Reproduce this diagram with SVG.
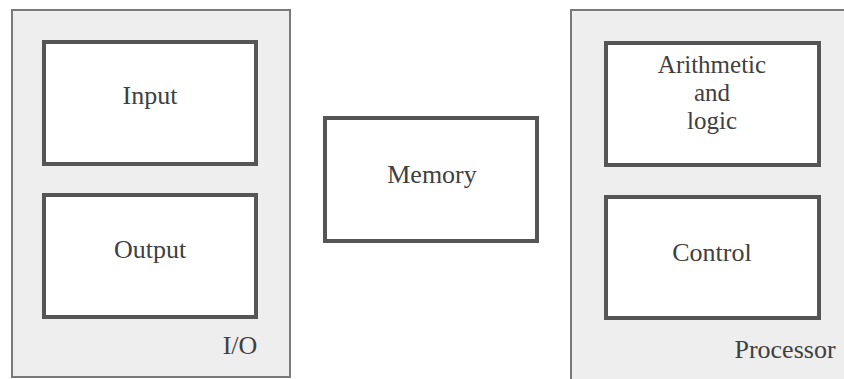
<svg xmlns="http://www.w3.org/2000/svg" width="844" height="379" viewBox="0 0 844 379">
<style>
.outer{fill:#eeeeee;stroke:#7a7a7a;stroke-width:2}
.box{fill:#ffffff;stroke:#555555;stroke-width:4}
.t{font-family:"Liberation Serif","Times New Roman",serif;font-size:26px;fill:#404040;text-anchor:middle}
.s{font-size:25px}
</style>
<rect width="844" height="379" fill="#ffffff"/>
<g id="io">
<rect class="outer" x="12" y="10" width="278" height="367"/>
<text class="t" x="240" y="354">I/O</text>
</g>
<g id="input">
<rect class="box" x="44" y="42" width="212" height="122"/>
<text class="t" x="150" y="104">Input</text>
</g>
<g id="output">
<rect class="box" x="44" y="195" width="212" height="122"/>
<text class="t" x="150" y="258">Output</text>
</g>
<g id="memory">
<rect class="box" x="325" y="118" width="212" height="123"/>
<text class="t" x="432" y="183">Memory</text>
</g>
<g id="processor">
<rect class="outer" x="571" y="10" width="290" height="380"/>
<text class="t" x="785" y="358">Processor</text>
</g>
<g id="alu">
<rect class="box" x="606" y="43" width="213" height="122"/>
<text class="t s" x="712" y="73">Arithmetic</text>
<text class="t s" x="712" y="101">and</text>
<text class="t s" x="712" y="129">logic</text>
</g>
<g id="control">
<rect class="box" x="606" y="197" width="213" height="121"/>
<text class="t" x="712" y="261">Control</text>
</g>
<g id="connectors"></g>
</svg>
